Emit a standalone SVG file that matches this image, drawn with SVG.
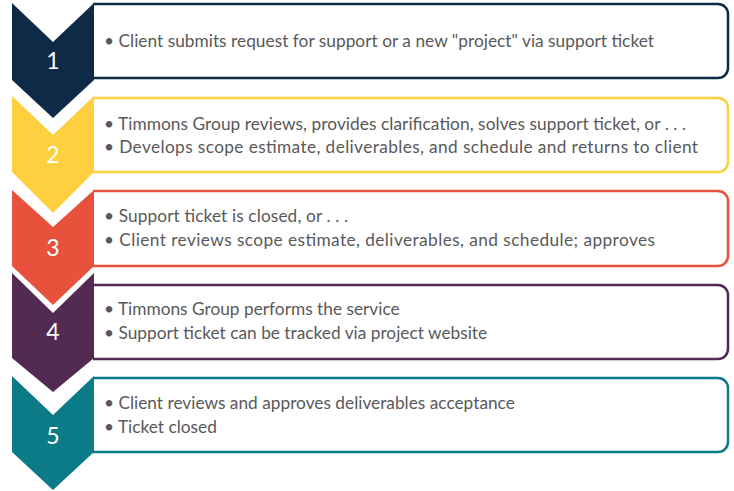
<svg xmlns="http://www.w3.org/2000/svg" width="734" height="491" viewBox="0 0 734 491">
<style>
.box{fill:#fff;stroke-width:2.5}
.num{font-family:Lato,"Open Sans",sans-serif;font-size:23px;fill:#fff;text-anchor:middle}
.t{font-family:Lato,"Open Sans",sans-serif;font-size:17.3px;fill:#595959}
</style>
<rect width="734" height="491" fill="#fff"/>
<g id="step1">
<path class="box" stroke="#0e2a47" d="M93,4 H718 A10,10 0 0 1 728,14 V68 A10,10 0 0 1 718,78 H93"/>
<polygon fill="#0e2a47" points="12,3 53,42 94,3 94,80 53,118 12,80"/>
<text class="num" x="53" y="69">1</text>
<text class="t" x="104" y="47" textLength="550" lengthAdjust="spacing">• Client submits request for support or a new "project" via support ticket</text>
</g>
<g id="step2">
<path class="box" stroke="#fecf3e" d="M93,98 H718 A10,10 0 0 1 728,108 V162 A10,10 0 0 1 718,172 H93"/>
<polygon fill="#fecf3e" points="12,96 53,135 94,96 94,172 53,213 12,172"/>
<text class="num" x="53" y="163">2</text>
<text class="t" x="104" y="130" textLength="582" lengthAdjust="spacing">• Timmons Group reviews, provides clarification, solves support ticket, or . . .</text>
<text class="t" x="104" y="153" textLength="594" lengthAdjust="spacing">• Develops scope estimate, deliverables, and schedule and returns to client</text>
</g>
<g id="step3">
<path class="box" stroke="#e8513b" d="M93,191 H718 A10,10 0 0 1 728,201 V256 A10,10 0 0 1 718,266 H93"/>
<polygon fill="#e8513b" points="12,190 53,227 94,190 94,266 53,305 12,266"/>
<text class="num" x="53" y="256">3</text>
<text class="t" x="104" y="222" textLength="244" lengthAdjust="spacing">• Support ticket is closed, or . . .</text>
<text class="t" x="104" y="246" textLength="551" lengthAdjust="spacing">• Client reviews scope estimate, deliverables, and schedule; approves</text>
</g>
<g id="step4">
<path class="box" stroke="#522a52" d="M93,285 H718 A10,10 0 0 1 728,295 V349 A10,10 0 0 1 718,359 H93"/>
<polygon fill="#522a52" points="12,273 53,313 94,273 94,358 53,392 12,358"/>
<text class="num" x="53" y="340">4</text>
<text class="t" x="104" y="315">• Timmons Group performs the service</text>
<text class="t" x="104" y="339">• Support ticket can be tracked via project website</text>
</g>
<g id="step5">
<path class="box" stroke="#0b7b87" d="M93,378 H718 A10,10 0 0 1 728,388 V442 A10,10 0 0 1 718,452 H93"/>
<polygon fill="#0b7b87" points="12,376 53,415 94,376 94,452 53,490 12,452"/>
<text class="num" x="53" y="444">5</text>
<text class="t" x="104" y="409">• Client reviews and approves deliverables acceptance</text>
<text class="t" x="104" y="433">• Ticket closed</text>
</g>
<g id="connectors"/>
</svg>
